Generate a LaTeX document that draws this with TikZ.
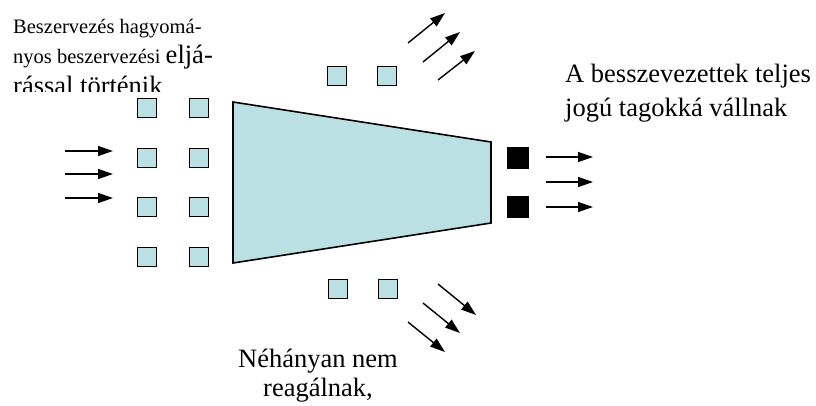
\documentclass[tikz,border=0pt]{standalone}
\usepackage{fontspec}
\setmainfont{Liberation Serif}
\usetikzlibrary{arrows.meta}
\definecolor{boxfill}{RGB}{187,224,227}
\begin{document}
\begin{tikzpicture}[x=1pt,y=-1pt,
  sq/.style={draw=black, line width=1.6pt, fill=boxfill, minimum size=19pt, inner sep=0pt},
  bsq/.style={fill=black, minimum size=22pt, inner sep=0pt},
  arr/.style={line width=1.4pt, -{Triangle[length=15pt,width=10pt]}},
  bigtxt/.style={font=\fontsize{26.5}{32}\selectfont},
  smalltxt/.style={font=\fontsize{20.5}{25}\selectfont},
  txt/.style={inner sep=0pt, anchor=base west}]
\useasboundingbox (0,0) rectangle (816,405);
% left squares
\foreach \i/\y in {1/108,2/158,3/207,4/257}{
  \node[sq] (l\i) at (147,\y) {};
  \node[sq] (r\i) at (199,\y) {};
}
\node[sq] (t1) at (337,76) {};
\node[sq] (t2) at (387,76) {};
\node[sq] (b1) at (338,289) {};
\node[sq] (b2) at (388,289) {};
% funnel
\coordinate (fA) at (233,102);
\coordinate (fB) at (491,142);
\coordinate (fC) at (491,223);
\coordinate (fD) at (233,263);
\draw[fill=boxfill, line width=1.6pt, line join=miter] (fA) -- (fB) -- (fC) -- (fD) -- cycle;
% black squares
\node[bsq] (k1) at (518,158) {};
\node[bsq] (k2) at (518,207) {};
% arrows
\foreach \i/\y in {1/151,2/174,3/198}{
  \coordinate (las\i) at (65,\y);
  \coordinate (lae\i) at (113,\y);
  \draw[arr] (las\i) -- (lae\i);
}
\foreach \i/\y in {1/157,2/182,3/207}{
  \coordinate (ras\i) at (546,\y);
  \coordinate (rae\i) at (593,\y);
  \draw[arr] (ras\i) -- (rae\i);
}
\foreach \i/\xa/\ya/\xb/\yb in {1/408/43/445/13,2/423/62/460/32,3/438/80/475/51}{
  \coordinate (tas\i) at (\xa,\ya);
  \coordinate (tae\i) at (\xb,\yb);
  \draw[arr] (tas\i) -- (tae\i);
}
\foreach \i/\xa/\ya/\xb/\yb in {1/438/284/476/315,2/423/303/460/333,3/408/322/445/352}{
  \coordinate (bas\i) at (\xa,\ya);
  \coordinate (bae\i) at (\xb,\yb);
  \draw[arr] (bas\i) -- (bae\i);
}
% texts
\node[txt, smalltxt] (tl1) at (13,33) {Beszervezés hagyomá-};
\node[txt] (tl2) at (13,63) {{\fontsize{20.5}{25}\selectfont nyos beszervezési }{\fontsize{26.5}{32}\selectfont eljá-}};
\begin{scope}
  \clip (0,0) rectangle (300,91);
  \node[txt, bigtxt] (tl3) at (13,94) {rással történik};
\end{scope}
\node[txt, bigtxt] (tr1) at (565,82) {A besszevezettek teljes};
\node[txt, bigtxt] (tr2) at (565,116) {jogú tagokká vállnak};
\node[inner sep=0pt, anchor=base, bigtxt] (nb1) at (318,367) {Néhányan nem};
\node[inner sep=0pt, anchor=base, bigtxt] (nb2) at (318,396) {reagálnak,};
\end{tikzpicture}
\end{document}
